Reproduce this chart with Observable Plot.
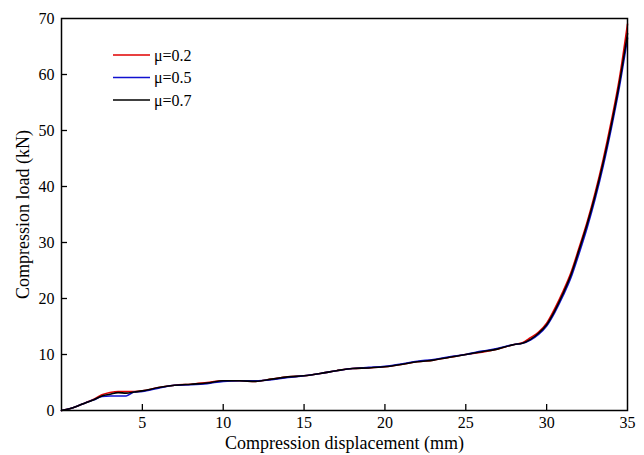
<!DOCTYPE html>
<html>
<head>
<meta charset="utf-8">
<script src="https://cdn.jsdelivr.net/npm/d3@7"></script>
<script src="https://cdn.jsdelivr.net/npm/@observablehq/plot@0.6"></script>
<style>
  body { margin: 0; background: #fff; }
  #chart svg { display: block; }
  #chart svg text { font-family: 'Liberation Serif', 'Times New Roman', serif !important; }
</style>
</head>
<body>
<div id="chart"></div>
<script>
// Compression displacement (mm)
const displacement = [0, 0.5, 1, 1.5, 2, 2.5, 3, 3.5, 4, 4.5, 5, 6, 7, 8, 9, 10, 11, 12, 13, 14, 15, 16, 17, 18, 19, 20, 21, 22, 23, 24, 25, 26, 27, 28, 28.5, 29, 29.5, 30, 30.5, 31, 31.5, 32, 32.5, 33, 33.5, 34, 34.5, 35];
// Compression load (kN) for each friction coefficient
const load02 = [0, 0.3, 0.8, 1.4, 2.0, 2.8, 3.2, 3.4, 3.4, 3.4, 3.5, 4.1, 4.5, 4.7, 5.0, 5.3, 5.3, 5.2, 5.6, 6.0, 6.2, 6.6, 7.1, 7.5, 7.6, 7.8, 8.2, 8.7, 9.0, 9.5, 10.0, 10.4, 11.0, 11.8, 12.1, 13.0, 14.0, 15.6, 18.2, 21.2, 24.6, 29.0, 33.6, 38.9, 44.9, 51.7, 59.3, 69.0];
const load05 = [0, 0.3, 0.8, 1.4, 1.9, 2.5, 2.6, 2.6, 2.6, 3.3, 3.4, 4.0, 4.5, 4.6, 4.8, 5.2, 5.3, 5.3, 5.5, 5.9, 6.2, 6.6, 7.1, 7.5, 7.7, 7.9, 8.3, 8.8, 9.1, 9.6, 10.0, 10.6, 11.1, 11.8, 12.0, 12.6, 13.6, 15.1, 17.5, 20.4, 23.7, 28.0, 32.6, 37.8, 43.7, 50.4, 57.8, 66.5];
const load07 = [0, 0.3, 0.8, 1.4, 1.9, 2.6, 2.9, 3.2, 3.1, 3.3, 3.5, 4.1, 4.5, 4.7, 4.9, 5.3, 5.3, 5.2, 5.6, 6.0, 6.2, 6.6, 7.1, 7.5, 7.6, 7.8, 8.2, 8.7, 9.0, 9.5, 10.0, 10.5, 11.0, 11.8, 12.0, 12.7, 13.8, 15.3, 17.8, 20.8, 24.2, 28.6, 33.2, 38.4, 44.3, 51.0, 58.5, 67.3];

const seriesNames = ["μ=0.2", "μ=0.5", "μ=0.7"];
const seriesColors = ["#e00000", "#1010d0", "#000000"];
const seriesLoads = [load02, load05, load07];

const xTicks = [5, 10, 15, 20, 25, 30, 35];
const xTickMarks = [5, 10, 15, 20, 25, 30];
const yTicks = [0, 10, 20, 30, 40, 50, 60, 70];
const yTickMarks = [10, 20, 30, 40, 50, 60];

const rows = [];
seriesNames.forEach((name, s) => {
  displacement.forEach((x, i) => rows.push({series: name, x, y: seriesLoads[s][i]}));
});

const font = "'Liberation Serif', 'Times New Roman', serif";
const W = 644, H = 455, mL = 61, mR = 17, mT = 18, mB = 45;
const innerW = W - mL - mR, innerH = H - mT - mB;

const plot = Plot.plot({
  width: W,
  height: H,
  marginLeft: mL,
  marginRight: mR,
  marginTop: mT,
  marginBottom: mB,
  style: {fontFamily: font, fontSize: "16px", background: "#fff", color: "#000"},
  x: {domain: [0, 35]},
  y: {domain: [0, 70]},
  color: {domain: seriesNames, range: seriesColors},
  marks: [
    // inward tick marks
    Plot.tickX(xTickMarks, {x: d => d, insetTop: innerH - 6, stroke: "#000", strokeWidth: 1.3}),
    Plot.tickY(yTickMarks, {y: d => d, insetRight: innerW - 6, stroke: "#000", strokeWidth: 1.3}),
    Plot.axisX(xTicks, {tickSize: 0, tickPadding: 6, fontSize: 16, fontFamily: font, label: "Compression displacement (mm)", labelAnchor: "center", labelOffset: 38, labelArrow: "none"}),
    Plot.axisY(yTicks, {tickSize: 0, tickPadding: 7, fontSize: 16, fontFamily: font, label: "Compression load (kN)", labelAnchor: "center", labelOffset: 45, labelArrow: "none"}),
    ...seriesNames.map(name => Plot.line(rows.filter(d => d.series === name), {x: "x", y: "y", stroke: "series", strokeWidth: 1.6, curve: "monotone-x"})),
    Plot.frame({stroke: "#000", strokeWidth: 1.5})
  ]
});

document.getElementById("chart").appendChild(plot);

// axis title font size
d3.select(plot).selectAll("g[aria-label='x-axis label'] text, g[aria-label='y-axis label'] text").style("font-size", "18px");

// Legend drawn inside the plot area
const svg = d3.select(plot);
const legend = svg.append("g").attr("font-family", font).attr("font-size", 16).attr("text-anchor", "start");
seriesNames.forEach((name, i) => {
  const yy = 55 + i * 22.5;
  legend.append("line").attr("x1", 113).attr("x2", 150).attr("y1", yy).attr("y2", yy)
    .attr("stroke", seriesColors[i]).attr("stroke-width", 1.5);
  legend.append("text").attr("x", 154).attr("y", yy + 5.5).attr("fill", "#000").text(name);
});
</script>
</body>
</html>
